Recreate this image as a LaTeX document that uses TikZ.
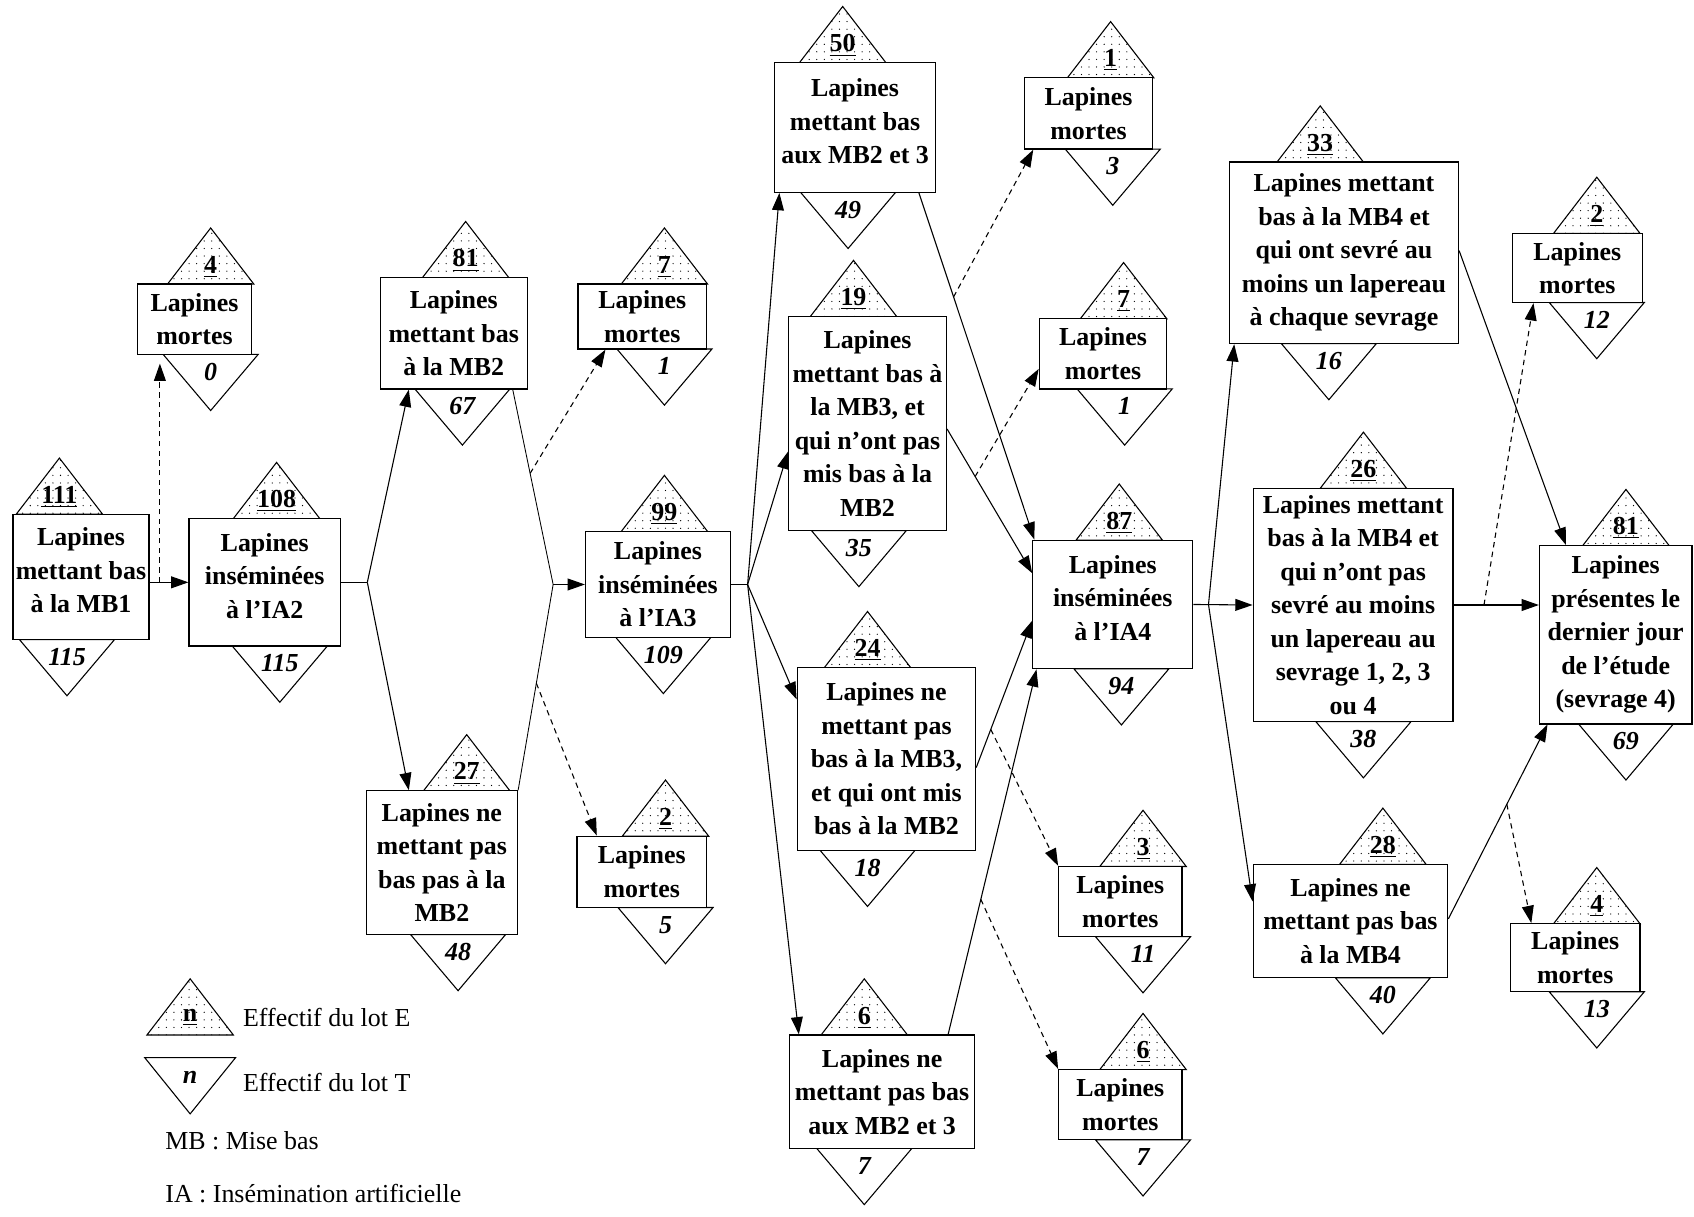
\documentclass[tikz,border=0pt]{standalone}
\usepackage{fontspec}
\setmainfont{Liberation Serif}
\usetikzlibrary{calc,patterns,arrows.meta}
\pgfdeclarepatternformonly{points}{\pgfqpoint{-1pt}{-1pt}}{\pgfqpoint{1pt}{1pt}}{\pgfqpoint{3.5pt}{3.5pt}}{\pgfpathcircle{\pgfqpoint{0pt}{0pt}}{0.3pt}\pgfusepath{fill}}
\tikzset{
	boite/.style={draw, fill=white, line width=0.6pt, align=center, inner sep=1pt, font=\fontsize{12}{15.5}\selectfont\bfseries},
	remonte/.style={text depth=6pt},
	fleche/.style={-{Triangle[length=8pt,width=5.5pt]}, line width=0.5pt},
	tirets/.style={fleche, dash pattern=on 2.5pt off 2pt},
	effE/.style={font=\fontsize{12}{14}\selectfont\bfseries},
	effT/.style={font=\fontsize{12}{14}\selectfont\bfseries\itshape},
	legende/.style={anchor=west, font=\fontsize{12}{14}\selectfont}
}
\def\dessus[#1](#2,#3)#4{\draw[pattern=points, line width=0.5pt] ({#2-40},#3) -- ({#2},{#3-52}) -- ({#2+40},#3) -- cycle; \node[effE] (#1E) at ({#2},{#3-16}) {\underline{#4}};}
\def\dessous[#1](#2,#3)#4{\draw[line width=0.5pt] ({#2-44},#3) -- ({#2},{#3+52}) -- ({#2+44},#3) -- cycle; \node[effT] (#1T) at ({#2},{#3+16}) {#4};}

\begin{document}
\begin{tikzpicture}[x=0.5pt,y=-0.5pt]
				\useasboundingbox (0,0) rectangle (1568,1126);
				
				\dessus[mb1](55,476){111}
				\dessous[mb1](62,592){115}
				\dessus[ia2](256,480){108}
				\dessous[ia2](259,598){115}
				\dessus[mort1](195,263){4}
				\dessous[mort1](195,328){0}
				\dessus[mb2](431,257){81}
				\dessous[mb2](428,360){67}
				\dessus[mort2](615,263){7}
				\dessous[mort2](615,323){1}
				\dessus[ia3](615,492){99}
				\dessous[ia3](614,590){109}
				\dessus[nomb2](432,732){27}
				\dessous[nomb2](424,865){48}
				\dessus[mort3](616,774){2}
				\dessous[mort3](616,840){5}
				\dessus[mb23](780,58){50}
				\dessous[mb23](785,178){49}
				\dessus[mort4](1028,72){1}
				\dessous[mort4](1030,138){3}
				\dessus[mb3](790,293){19}
				\dessous[mb3](795,491){35}
				\dessus[mort5](1040,295){7}
				\dessous[mort5](1041,360){1}
				\dessus[ia4](1036,500){87}
				\dessous[ia4](1038,619){94}
				\dessus[nomb3](803,618){24}
				\dessous[nomb3](803,787){18}
				\dessus[nomb23](800,958){6}
				\dessous[nomb23](800,1063){7}
				\dessus[mort6](1058,802){3}
				\dessous[mort6](1058,867){11}
				\dessus[mort7](1058,990){6}
				\dessous[mort7](1058,1055){7}
				\dessus[sev](1222,150){33}
				\dessous[sev](1230,318){16}
				\dessus[mort8](1478,216){2}
				\dessous[mort8](1478,280){12}
				\dessus[nsev](1262,452){26}
				\dessous[nsev](1262,668){38}
				\dessus[nomb4](1280,800){28}
				\dessous[nomb4](1280,905){40}
				\dessus[fin](1505,505){81}
				\dessous[fin](1505,670){69}
				\dessus[mort9](1478,855){4}
				\dessous[mort9](1478,918){13}
				
				\node[boite, remonte, minimum width=63pt, minimum height=58pt] (mb1) at (75,534) {Lapines\\mettant bas\\à la MB1};
				\node[boite, remonte, minimum width=70pt, minimum height=59pt] (ia2) at (245,539) {Lapines\\inséminées\\à l’IA2};
				\node[boite, minimum width=53pt, minimum height=32.5pt] (mort1) at (180,295.5) {Lapines\\mortes};
				\node[boite, minimum width=68pt, minimum height=51.5pt] (mb2) at (420,308.5) {Lapines\\mettant bas\\à la MB2};
				\node[boite, minimum width=59.5pt, minimum height=30pt] (mort2) at (594.5,293) {Lapines\\mortes};
				\node[boite, minimum width=67pt, minimum height=49pt] (ia3) at (609,541) {Lapines\\inséminées\\à l’IA3};
				\node[boite, minimum width=70pt, minimum height=66.5pt] (nomb2) at (409,798.5) {Lapines ne\\mettant pas\\bas pas à la\\MB2};
				\node[boite, minimum width=60pt, minimum height=33pt] (mort3) at (594,807) {Lapines\\mortes};
				\node[boite, remonte, minimum width=74.5pt, minimum height=60pt] (mb23) at (791.5,118) {Lapines\\mettant bas\\aux MB2 et 3};
				\node[boite, minimum width=59.5pt, minimum height=33pt] (mort4) at (1007.5,105) {Lapines\\mortes};
				\node[boite, minimum width=73pt, minimum height=99pt] (mb3) at (803,392) {Lapines\\mettant bas à\\la MB3, et\\qui n’ont pas\\mis bas à la\\MB2};
				\node[boite, minimum width=59pt, minimum height=32.5pt] (mort5) at (1021,327.5) {Lapines\\mortes};
				\node[boite, remonte, minimum width=74pt, minimum height=59.5pt] (ia4) at (1030,559.5) {Lapines\\inséminées\\à l’IA4};
				\node[boite, minimum width=82.5pt, minimum height=84.5pt] (nomb3) at (820.5,702.5) {Lapines ne\\mettant pas\\bas à la MB3,\\et qui ont mis\\bas à la MB2};
				\node[boite, minimum width=85.5pt, minimum height=52.5pt] (nomb23) at (816.5,1010.5) {Lapines ne\\mettant pas bas\\aux MB2 et 3};
				\node[boite, minimum width=57pt, minimum height=32.5pt] (mort6) at (1037,834.5) {Lapines\\mortes};
				\node[boite, minimum width=57pt, minimum height=32.5pt] (mort7) at (1037,1022.5) {Lapines\\mortes};
				\node[boite, minimum width=106pt, minimum height=84pt] (sev) at (1244,234) {Lapines mettant\\bas à la MB4 et\\qui ont sevré au\\moins un lapereau\\à chaque sevrage};
				\node[boite, minimum width=60pt, minimum height=32pt] (mort8) at (1460,248) {Lapines\\mortes};
				\node[boite, minimum width=92.5pt, minimum height=108pt] (nsev) at (1252.5,560) {Lapines mettant\\bas à la MB4 et\\qui n’ont pas\\sevré au moins\\un lapereau au\\sevrage 1, 2, 3\\ou 4};
				\node[boite, minimum width=90pt, minimum height=52.5pt] (nomb4) at (1250,852.5) {Lapines ne\\mettant pas bas\\à la MB4};
				\node[boite, minimum width=70.5pt, minimum height=82.5pt] (fin) at (1495.5,587.5) {Lapines\\présentes le\\dernier jour\\de l’étude\\(sevrage 4)};
				\node[boite, minimum width=60pt, minimum height=31.5pt] (mort9) at (1458,886.5) {Lapines\\mortes};
				
				\coordinate (d1) at (148,539);
				\draw[fleche] (ia2.west -| mb1.east) -- (ia2.west);
				\draw[tirets, shorten >=4pt] (d1) -- (d1 |- mort1.south);
				
				\coordinate (s2) at (340,539);
				\coordinate (m2) at (512,541);
				\coordinate (b2) at ($(mb2.south east)+(-14,0)$);
				\draw (ia2.east) -- (s2);
				\draw[fleche] (s2) -- ($(mb2.south west)+(27,0)$);
				\draw[fleche] (s2) -- ($(nomb2.north west)+(40,0)$);
				\draw (b2) -- (m2) -- (nomb2.north east);
				\draw[fleche] (m2) -- (m2 -| ia3.west);
				\draw[tirets] ($(b2)!0.43!(m2)$) -- ($(mort2.south west)+(26,0)$);
				\draw[tirets] ($(nomb2.north east)!0.52!(m2)$) -- ($(mort3.north west)+(19,0)$);
				
				\coordinate (s3) at (692,541);
				\draw (ia3.east) -- (s3);
				\draw[fleche] (s3) -- ($(mb23.south west)+(5,0)$);
				\draw[fleche] (s3) -- ($(mb3.west)+(0,26)$);
				\draw[fleche] (s3) -- ($(nomb3.north west)+(0,30)$);
				\draw[fleche] (s3) -- ($(nomb23.north west)+(9,0)$);
				
				\coordinate (b23) at ($(mb23.south east)+(-16,0)$);
				\coordinate (e3) at ($(mb3.east)+(0,5)$);
				\coordinate (e4) at ($(nomb3.east)+(0,8)$);
				\coordinate (t23) at ($(nomb23.north east)+(-25,0)$);
				\coordinate (i1) at ($(ia4.north west)+(2,0)$);
				\coordinate (i2) at ($(ia4.west)+(0,-29)$);
				\coordinate (i3) at ($(ia4.west)+(0,15)$);
				\coordinate (i4) at ($(ia4.south west)+(4,0)$);
				\draw[fleche] (b23) -- (i1);
				\draw[fleche] (e3) -- (i2);
				\draw[fleche] (e4) -- (i3);
				\draw[fleche] (t23) -- (i4);
				\draw[tirets] ($(b23)!0.3!(i1)$) -- ($(mort4.south west)+(9,0)$);
				\draw[tirets] ($(e3)!0.33!(i2)$) -- ($(mort5.west)+(0,14)$);
				\draw[tirets] ($(e4)!0.26!(i3)$) -- (mort6.north west);
				\draw[tirets] ($(t23)!0.37!(i4)$) -- (mort7.north west);
				
				\coordinate (s4) at ($(ia4.east)+(14,0)$);
				\draw[fleche] (ia4.east) -- (nsev.west);
				\draw[fleche] (s4) -- ($(sev.south west)+(5,0)$);
				\draw[fleche] (s4) -- ($(nomb4.north west)+(0,35)$);
				
				\coordinate (e5) at ($(nomb4.east)+(0,-2)$);
				\coordinate (f1) at ($(fin.south west)+(8,0)$);
				\draw[fleche] ($(sev.east)+(0,-2)$) -- ($(fin.north west)+(25,0)$);
				\draw[fleche] (nsev.east) -- (nsev.east -| fin.west);
				\draw[tirets] ($(nsev.east)+(28,0)$) -- ($(mort8.south west)+(20,0)$);
				\draw[fleche] (e5) -- (f1);
				\draw[tirets] ($(e5)!0.59!(f1)$) -- ($(mort9.north west)+(20,0)$);
				
				\dessus[legE](176,958){n}
				\draw[line width=0.5pt] (134,979) -- (218,979) -- (176,1031) -- cycle;
				\node[effT] (legTn) at (176,997) {n};
				\node[legende] (legE) at (218,942) {Effectif du lot E};
				\node[legende] (legT) at (218,1002) {Effectif du lot T};
				\node[legende] (legMB) at (146,1056) {MB : Mise bas};
				\node[legende] (legIA) at (146,1105) {IA : Insémination artificielle};
\end{tikzpicture}
\end{document}
